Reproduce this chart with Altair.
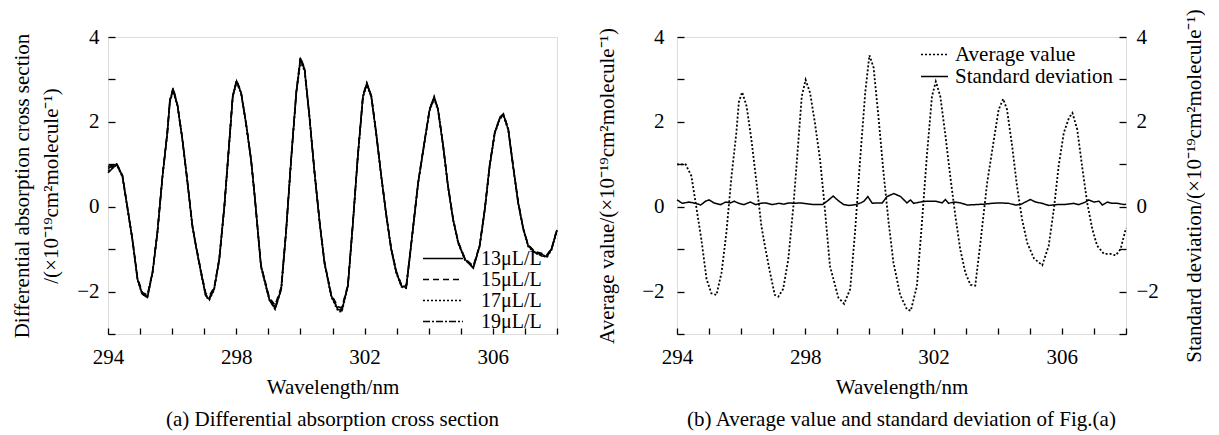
import altair as alt
import pandas as pd

FONT = "Liberation Serif"
FS = 21

# ---------------- data ----------------
wavelength = [294.0, 294.27, 294.45, 294.6, 294.76, 294.92, 295.07, 295.23, 295.39, 295.54,
              295.7, 295.85, 295.93, 296.03, 296.17, 296.32, 296.48, 296.63, 296.74, 296.9,
              297.05, 297.16, 297.31, 297.47, 297.63, 297.78, 297.89, 298.01, 298.15, 298.3,
              298.46, 298.58, 298.77, 299.03, 299.21, 299.4, 299.55, 299.71, 299.87, 300.0,
              300.13, 300.28, 300.44, 300.6, 300.75, 300.96, 301.17, 301.29, 301.48, 301.63,
              301.79, 301.95, 302.07, 302.21, 302.36, 302.52, 302.68, 302.83, 302.99, 303.15,
              303.3, 303.46, 303.67, 303.88, 304.03, 304.17, 304.29, 304.45, 304.6, 304.76,
              304.92, 305.13, 305.39, 305.59, 305.75, 305.9, 306.06, 306.22, 306.33, 306.48,
              306.63, 306.79, 306.95, 307.1, 307.31, 307.52, 307.68, 307.83, 308.0]

c13 = [0.80, 1.00, 0.72, 0.00, -0.77, -1.71, -2.06, -2.14, -1.55, -0.61,
       0.72, 1.74, 2.49, 2.75, 2.37, 1.58, 0.56, -0.45, -0.92, -1.55,
       -2.10, -2.18, -1.94, -1.24, 0.02, 1.50, 2.60, 2.96, 2.68, 1.98,
       1.11, 0.20, -1.40, -2.18, -2.40, -1.94, -0.61, 1.11, 2.68, 3.47,
       3.23, 2.13, 0.80, -0.38, -1.32, -2.10, -2.42, -2.45, -1.87, -0.45,
       1.19, 2.60, 2.90, 2.60, 1.74, 0.72, -0.22, -1.00, -1.55, -1.87,
       -1.90, -0.85, 0.56, 1.58, 2.29, 2.56, 2.29, 1.43, 0.49, -0.30,
       -0.85, -1.24, -1.44, -0.92, -0.06, 0.96, 1.74, 2.09, 2.17, 1.82,
       0.96, 0.09, -0.53, -0.92, -1.08, -1.12, -1.18, -1.00, -0.55]

c15 = [0.95, 1.02, 0.74, 0.02, -0.75, -1.68, -2.02, -2.08, -1.52, -0.60,
       0.74, 1.76, 2.52, 2.80, 2.40, 1.60, 0.58, -0.43, -0.90, -1.52,
       -2.05, -2.10, -1.90, -1.22, 0.04, 1.52, 2.62, 2.98, 2.70, 2.00,
       1.12, 0.22, -1.38, -2.14, -2.32, -1.90, -0.58, 1.13, 2.70, 3.52,
       3.26, 2.15, 0.82, -0.36, -1.30, -2.06, -2.36, -2.38, -1.84, -0.43,
       1.21, 2.62, 2.92, 2.62, 1.76, 0.74, -0.20, -0.98, -1.52, -1.84,
       -1.86, -0.83, 0.58, 1.60, 2.31, 2.58, 2.31, 1.45, 0.51, -0.28,
       -0.83, -1.22, -1.40, -0.90, -0.04, 0.98, 1.76, 2.11, 2.19, 1.84,
       0.98, 0.11, -0.51, -0.90, -1.06, -1.10, -1.14, -0.98, -0.53]

c17 = [0.85, 0.98, 0.70, -0.02, -0.79, -1.73, -2.08, -2.10, -1.57, -0.63,
       0.70, 1.72, 2.47, 2.72, 2.35, 1.56, 0.54, -0.47, -0.94, -1.57,
       -2.12, -2.20, -1.96, -1.26, 0.00, 1.48, 2.58, 2.93, 2.66, 1.96,
       1.09, 0.18, -1.42, -2.20, -2.36, -1.96, -0.63, 1.09, 2.66, 3.42,
       3.20, 2.11, 0.78, -0.40, -1.34, -2.12, -2.46, -2.48, -1.89, -0.47,
       1.17, 2.58, 2.86, 2.58, 1.72, 0.70, -0.24, -1.02, -1.57, -1.89,
       -1.92, -0.87, 0.54, 1.56, 2.27, 2.54, 2.27, 1.41, 0.47, -0.32,
       -0.87, -1.26, -1.42, -0.94, -0.08, 0.94, 1.72, 2.07, 2.14, 1.80,
       0.94, 0.07, -0.55, -0.94, -1.10, -1.14, -1.20, -1.02, -0.57]

c19 = [0.90, 1.01, 0.73, 0.01, -0.76, -1.70, -2.05, -2.12, -1.54, -0.60,
       0.73, 1.75, 2.50, 2.78, 2.38, 1.59, 0.57, -0.44, -0.91, -1.54,
       -2.09, -2.14, -1.93, -1.23, 0.03, 1.51, 2.61, 2.97, 2.69, 1.99,
       1.12, 0.21, -1.39, -2.19, -2.42, -1.95, -0.62, 1.12, 2.69, 3.50,
       3.24, 2.14, 0.81, -0.37, -1.31, -2.09, -2.40, -2.42, -1.86, -0.44,
       1.20, 2.61, 2.91, 2.61, 1.75, 0.73, -0.21, -0.99, -1.54, -1.86,
       -1.88, -0.84, 0.57, 1.59, 2.30, 2.60, 2.30, 1.44, 0.50, -0.29,
       -0.84, -1.23, -1.45, -0.91, -0.05, 0.97, 1.75, 2.10, 2.18, 1.83,
       0.97, 0.10, -0.52, -0.91, -1.07, -1.16, -1.17, -0.99, -0.54]

avg_value = [1.00, 1.00, 0.72, 0.00, -0.77, -1.70, -2.04, -2.08, -1.55, -0.61,
             0.72, 1.74, 2.47, 2.70, 2.37, 1.58, 0.56, -0.45, -0.92, -1.55,
             -2.08, -2.12, -1.94, -1.24, 0.02, 1.50, 2.60, 2.99, 2.68, 1.98,
             1.11, 0.20, -1.40, -2.14, -2.29, -1.94, -0.61, 1.11, 2.70, 3.57,
             3.28, 2.13, 0.80, -0.38, -1.32, -2.08, -2.42, -2.45, -1.87, -0.45,
             1.19, 2.60, 2.95, 2.60, 1.74, 0.72, -0.22, -1.00, -1.55, -1.84,
             -1.86, -0.85, 0.56, 1.58, 2.29, 2.54, 2.29, 1.43, 0.49, -0.30,
             -0.85, -1.22, -1.38, -0.92, -0.06, 0.96, 1.74, 2.09, 2.21, 1.82,
             0.96, 0.09, -0.53, -0.92, -1.11, -1.11, -1.15, -1.00, -0.50]

std_wavelength = [294.0, 294.17, 294.37, 294.58, 294.74, 294.89, 295.0, 295.15, 295.36, 295.52,
                  295.67, 295.78, 295.93, 296.09, 296.29, 296.45, 296.61, 296.76, 296.97, 297.18,
                  297.33, 297.49, 297.64, 297.85, 298.06, 298.27, 298.53, 298.68, 298.87, 299.05,
                  299.2, 299.36, 299.57, 299.73, 299.83, 299.95, 300.09, 300.24, 300.4, 300.55,
                  300.76, 300.97, 301.17, 301.28, 301.38, 301.59, 301.8, 302.06, 302.27, 302.37,
                  302.47, 302.63, 302.84, 303.05, 303.31, 303.56, 303.82, 304.08, 304.34, 304.55,
                  304.71, 304.86, 305.02, 305.18, 305.38, 305.59, 305.85, 306.06, 306.37, 306.53,
                  306.74, 306.84, 307.0, 307.16, 307.26, 307.42, 307.57, 307.73, 307.94, 308.0]

std_value = [0.16, 0.08, 0.11, 0.08, 0.04, 0.13, 0.16, 0.09, 0.05, 0.11,
             0.09, 0.13, 0.08, 0.05, 0.11, 0.05, 0.08, 0.09, 0.05, 0.08,
             0.06, 0.09, 0.08, 0.09, 0.07, 0.05, 0.05, 0.13, 0.25, 0.13,
             0.05, 0.03, 0.05, 0.09, 0.13, 0.24, 0.08, 0.09, 0.09, 0.24,
             0.31, 0.24, 0.09, 0.16, 0.08, 0.11, 0.13, 0.13, 0.09, 0.17,
             0.08, 0.11, 0.09, 0.04, 0.05, 0.06, 0.08, 0.09, 0.08, 0.04,
             0.05, 0.11, 0.17, 0.11, 0.08, 0.03, 0.05, 0.05, 0.08, 0.05,
             0.11, 0.16, 0.11, 0.13, 0.04, 0.11, 0.08, 0.08, 0.05, 0.06]

series_left = ["13μL/L", "15μL/L", "17μL/L", "19μL/L"]
series_right = ["Average value", "Standard deviation"]

x_tick_values = [294, 295, 296, 297, 298, 299, 300, 301, 302, 303, 304, 305, 306, 307, 308]
y_tick_values = [-3, -2.5, -2, -1.5, -1, -0.5, 0, 0.5, 1, 1.5, 2, 2.5, 3, 3.5, 4]

unit = "(×10⁻¹⁹cm²molecule⁻¹)"
caption_a = "(a) Differential absorption cross section"
caption_b = "(b) Average value and standard deviation of Fig.(a)"

# ---------------- tables ----------------
rows = []
for name, vals in zip(series_left, [c13, c15, c17, c19]):
    for w, v in zip(wavelength, vals):
        rows.append({"wl": w, "val": v, "series": name})
df_left = pd.DataFrame(rows)
df_avg = pd.DataFrame({"wl": wavelength, "val": avg_value, "series": series_right[0]})
df_std = pd.DataFrame({"wl": std_wavelength, "val": std_value, "series": series_right[1]})

xscale = alt.Scale(domain=[294, 308], nice=False, zero=False)
yscale = alt.Scale(domain=[-3, 4], nice=False, zero=False)

common = dict(domain=False, grid=False, tickColor="black", tickWidth=1.3,
              labelFont=FONT, labelFontSize=FS, labelColor="black",
              labelFlush=False, labelOverlap=False, format="d",
              titleFont=FONT, titleFontSize=FS, titleFontWeight="normal", titleColor="black")


def x_axis():
    return alt.Axis(values=x_tick_values, labelExpr="datum.value % 4 == 2 ? datum.label : ''",
                    title="Wavelength/nm", tickSize={"expr": "-6"}, labelPadding=18,
                    titlePadding=9, **common)


def y_axis(title, orient="left", label_gap=9, title_pad=15, **kw):
    return alt.Axis(values=y_tick_values, labelExpr="datum.value % 2 == 0 ? datum.label : ''",
                    title=title, orient=orient, tickSize={"expr": "-7"},
                    labelPadding=label_gap + 7, titlePadding=title_pad, **common, **kw)


def caption(text):
    return alt.TitleParams(text=text, orient="bottom", anchor="middle", font=FONT,
                           fontSize=FS, fontWeight="normal", color="black", offset=12)


# ---------------- panel (a) ----------------
dash_left = alt.Scale(domain=series_left, range=[[1, 0], [6, 4], [2, 2], [7, 2, 2, 2]])
left = alt.Chart(df_left).mark_line(color="black", strokeWidth=1.6).encode(
    x=alt.X("wl:Q", scale=xscale, axis=x_axis()),
    y=alt.Y("val:Q", scale=yscale,
            axis=y_axis(["Differential absorption cross section", "/" + unit],
                        label_gap=9, title_pad=15, titleLineHeight=29)),
    strokeDash=alt.StrokeDash("series:N", scale=dash_left, sort=series_left,
                              legend=alt.Legend(title=None, orient="none", legendX=314, legendY=211,
                                                symbolType="stroke", symbolSize=1600,
                                                symbolStrokeWidth=1.5, symbolStrokeColor="black",
                                                labelFont=FONT, labelFontSize=20, labelColor="black",
                                                labelOffset=17, clipHeight=21, rowPadding=0,
                                                padding=0)),
).properties(width=449, height=297, title=caption(caption_a))

# ---------------- panel (b) ----------------
dash_right = alt.Scale(domain=series_right, range=[[2, 2], [1, 0]])
legend_right = alt.Legend(title=None, orient="none", legendX=243, legendY=7,
                          symbolType="stroke", symbolSize=729, symbolStrokeWidth=1.6,
                          symbolStrokeColor="black", labelFont=FONT, labelFontSize=FS,
                          labelColor="black", labelOffset=6, clipHeight=21, rowPadding=0, padding=0)

avg_layer = alt.Chart(df_avg).mark_line(color="black", strokeWidth=1.8).encode(
    x=alt.X("wl:Q", scale=xscale, axis=x_axis()),
    y=alt.Y("val:Q", scale=yscale,
            axis=y_axis("Average value/" + unit, label_gap=13, title_pad=24)),
    strokeDash=alt.StrokeDash("series:N", scale=dash_right, legend=legend_right),
)
std_layer = alt.Chart(df_std).mark_line(color="black", strokeWidth=1.5).encode(
    x=alt.X("wl:Q", scale=xscale, axis=x_axis()),
    y=alt.Y("val:Q", scale=yscale,
            axis=y_axis("Standard deviation/" + unit, orient="right", label_gap=10,
                        title_pad=25, titleAngle=270, titleBaseline="top")),
    strokeDash=alt.StrokeDash("series:N", scale=dash_right, legend=legend_right),
)
right = alt.layer(avg_layer, std_layer).resolve_scale(y="independent").properties(
    width=449, height=297, title=caption(caption_b))

chart = alt.hconcat(left, right, spacing=120, bounds="flush").resolve_scale(
    strokeDash="independent"
).configure_view(stroke="black", strokeWidth=1.5).configure(
    background="white", padding={"top": 0, "left": 3, "right": 0, "bottom": 0}
)

chart.save("out.html", embed_options={"renderer": "svg", "actions": False})
